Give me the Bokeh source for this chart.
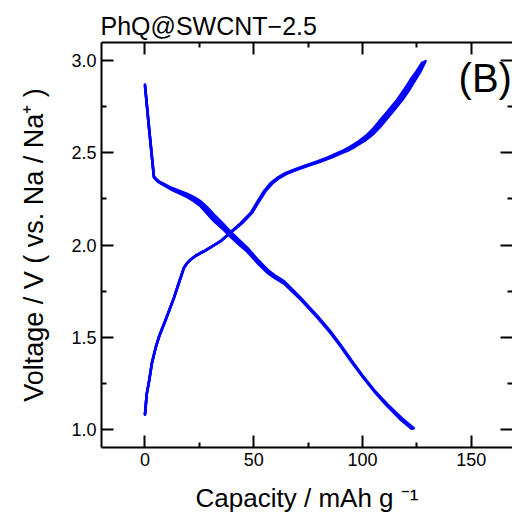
from bokeh.plotting import figure
from bokeh.models import Range1d, FixedTicker, LinearAxis, Label
from bokeh.embed import file_html
from bokeh.resources import INLINE

# ---- data ----
dis_cap_1 = [0, 1.9, 4.1, 5.0, 6.4, 11.8, 19.5, 22.5, 25.6, 28.5, 31.7, 35.5, 39.4, 43.0, 47.1, 51.5, 56.2, 60.0, 63.9, 67.5, 71.6, 75.5, 80.0, 85.0, 89.9, 95.0, 100.6, 106.0, 111.4, 115.0, 118.0, 123.6]
dis_v_1 = [2.87, 2.635, 2.373, 2.360, 2.346, 2.313, 2.277, 2.260, 2.237, 2.205, 2.165, 2.120, 2.071, 2.030, 1.984, 1.925, 1.867, 1.832, 1.804, 1.762, 1.713, 1.663, 1.605, 1.535, 1.458, 1.372, 1.282, 1.203, 1.135, 1.095, 1.060, 1.005]
dis_cap_2 = [0, 1.9, 4.1, 5.0, 6.4, 11.8, 19.5, 22.5, 25.6, 28.5, 31.7, 35.5, 39.4, 43.0, 47.1, 51.5, 56.2, 60.0, 63.9, 67.5, 71.6, 75.5, 80.0, 85.0, 89.9, 95.0, 100.6, 106.0, 111.2, 114.7, 117.6, 123.1]
dis_v_2 = [2.87, 2.630, 2.370, 2.357, 2.343, 2.308, 2.268, 2.248, 2.222, 2.188, 2.145, 2.102, 2.055, 2.015, 1.972, 1.914, 1.858, 1.825, 1.797, 1.755, 1.708, 1.658, 1.600, 1.530, 1.454, 1.368, 1.279, 1.200, 1.132, 1.092, 1.057, 1.003]
dis_cap_3 = [0, 1.9, 4.1, 5.0, 6.4, 11.8, 19.5, 22.5, 25.6, 28.5, 31.7, 35.5, 39.4, 43.0, 47.1, 51.5, 56.2, 60.0, 63.9, 67.5, 71.6, 75.5, 80.0, 85.0, 89.9, 95.0, 100.6, 106.0, 111.0, 114.4, 117.2, 122.6]
dis_v_3 = [2.86, 2.628, 2.368, 2.354, 2.340, 2.303, 2.260, 2.238, 2.210, 2.172, 2.130, 2.090, 2.045, 2.005, 1.963, 1.905, 1.850, 1.818, 1.790, 1.750, 1.703, 1.654, 1.596, 1.526, 1.450, 1.365, 1.276, 1.197, 1.130, 1.090, 1.055, 1.002]

chg_cap_1 = [0, 0.8, 1.9, 3.2, 4.9, 6.7, 8.7, 11.0, 13.3, 15.6, 17.9, 19.5, 21.0, 23.5, 27.1, 30.5, 34.8, 39.4, 44.0, 48.6, 51.7, 54.7, 57.7, 60.8, 64.5, 68.5, 73.5, 79.2, 84.0, 88.4, 91.5, 94.5, 98.5, 102.2, 105.3, 108.3, 112.0, 116.0, 119.0, 122.1, 125.0, 127.5]
chg_v_1 = [1.08, 1.19, 1.262, 1.360, 1.442, 1.510, 1.569, 1.640, 1.713, 1.795, 1.876, 1.903, 1.921, 1.943, 1.966, 1.990, 2.021, 2.071, 2.118, 2.174, 2.235, 2.292, 2.335, 2.364, 2.390, 2.409, 2.430, 2.454, 2.476, 2.499, 2.515, 2.535, 2.565, 2.599, 2.636, 2.680, 2.732, 2.789, 2.840, 2.897, 2.945, 2.991]
chg_cap_2 = [0, 0.8, 1.9, 3.2, 4.9, 6.7, 8.7, 11.0, 13.3, 15.6, 17.9, 19.5, 21.0, 23.5, 27.1, 30.5, 34.8, 39.6, 44.3, 48.9, 52.0, 55.1, 58.2, 61.3, 65.1, 69.2, 74.3, 80.1, 85.0, 89.5, 92.7, 95.7, 99.8, 103.5, 106.6, 109.6, 113.3, 117.3, 120.3, 123.3, 126.0, 128.4]
chg_v_2 = [1.08, 1.19, 1.262, 1.360, 1.442, 1.510, 1.569, 1.640, 1.713, 1.795, 1.876, 1.903, 1.921, 1.943, 1.966, 1.990, 2.021, 2.071, 2.118, 2.174, 2.235, 2.292, 2.335, 2.364, 2.390, 2.409, 2.430, 2.454, 2.476, 2.499, 2.515, 2.535, 2.565, 2.599, 2.636, 2.680, 2.732, 2.789, 2.840, 2.897, 2.945, 2.995]
chg_cap_3 = [0, 0.8, 1.9, 3.2, 4.9, 6.7, 8.7, 11.0, 13.3, 15.6, 17.9, 19.5, 21.0, 23.5, 27.1, 30.5, 34.8, 39.8, 44.6, 49.2, 52.3, 55.4, 58.6, 61.7, 65.7, 69.8, 75.0, 80.9, 86.0, 90.4, 93.7, 96.7, 100.9, 104.6, 107.7, 110.8, 114.5, 118.4, 121.4, 124.3, 126.8, 129.0]
chg_v_3 = [1.08, 1.19, 1.262, 1.360, 1.442, 1.510, 1.569, 1.640, 1.713, 1.795, 1.876, 1.903, 1.921, 1.943, 1.966, 1.990, 2.021, 2.071, 2.118, 2.174, 2.235, 2.292, 2.335, 2.364, 2.390, 2.409, 2.430, 2.454, 2.476, 2.499, 2.515, 2.535, 2.565, 2.599, 2.636, 2.680, 2.732, 2.789, 2.840, 2.897, 2.945, 2.998]

x_major = [0, 50, 100, 150]
x_minor = [-25, 25, 75, 125, 175]
y_major = [1.0, 1.5, 2.0, 2.5, 3.0]
y_minor = [0.75, 1.25, 1.75, 2.25, 2.75, 3.25]
y_labels = {1.0: "1.0", 1.5: "1.5", 2.0: "2.0", 2.5: "2.5", 3.0: "3.0"}

FONT = "Liberation Sans"

p = figure(width=512, height=515, output_backend="svg", toolbar_location=None,
           x_range=Range1d(-20, 169), y_range=Range1d(0.9, 3.1),
           min_border_left=101, min_border_right=0, min_border_top=42, min_border_bottom=68,
           title="PhQ@SWCNT\u22122.5")
p.title.text_font = FONT
p.title.text_font_size = "25px"
p.title.text_font_style = "normal"
p.title.text_color = "black"
p.title.standoff = 6
p.title.offset = -1
p.outline_line_color = None
p.grid.visible = False
p.background_fill_color = "white"
p.border_fill_color = "white"

for xs, ys in [(dis_cap_1, dis_v_1), (dis_cap_2, dis_v_2), (dis_cap_3, dis_v_3),
               (chg_cap_1, chg_v_1), (chg_cap_2, chg_v_2), (chg_cap_3, chg_v_3)]:
    p.line(xs, ys, line_color="#0000FF", line_width=2.6, line_join="round", line_cap="round")

xt = FixedTicker(ticks=x_major, minor_ticks=x_minor)
yt = FixedTicker(ticks=y_major, minor_ticks=y_minor)

def style(ax):
    ax.axis_line_width = 2
    ax.axis_line_color = "black"
    ax.major_tick_in = 12
    ax.major_tick_out = 0
    ax.minor_tick_in = 5
    ax.minor_tick_out = 0
    ax.major_tick_line_width = 2
    ax.minor_tick_line_width = 2
    ax.major_tick_line_color = "black"
    ax.minor_tick_line_color = "black"
    ax.major_label_text_font = FONT
    ax.major_label_text_font_size = "18px"
    ax.major_label_text_color = "black"
    ax.axis_label_text_font = FONT
    ax.axis_label_text_font_size = "26px"
    ax.axis_label_text_font_style = "normal"
    ax.axis_label_text_color = "black"

xa = p.xaxis[0]
xa.ticker = xt
style(xa)
xa.major_label_standoff = 5
xa.axis_label = "Capacity / mAh g \u207b\u00b9"
xa.axis_label_standoff = 14

ya = p.yaxis[0]
ya.ticker = yt
style(ya)
ya.major_label_overrides = y_labels
ya.major_label_standoff = 5
ya.axis_label = "Voltage / V ( vs. Na / Na\u207a )"
ya.axis_label_text_font_size = "27px"
ya.axis_label_standoff = 19

top = LinearAxis(ticker=xt)
style(top)
top.major_label_overrides = {t: "" for t in x_major}
top.major_label_standoff = 0
p.add_layout(top, "above")

right = LinearAxis(ticker=yt)
style(right)
right.axis_line_color = None
right.major_label_overrides = {t: "" for t in y_major}
right.major_label_standoff = 0
p.add_layout(right, "right")

p.add_layout(Label(x=144.2, y=2.79, text="(B)", text_font=FONT, text_font_size="40px",
                   text_color="black"))

open("out.html", "w").write(file_html(p, INLINE))
